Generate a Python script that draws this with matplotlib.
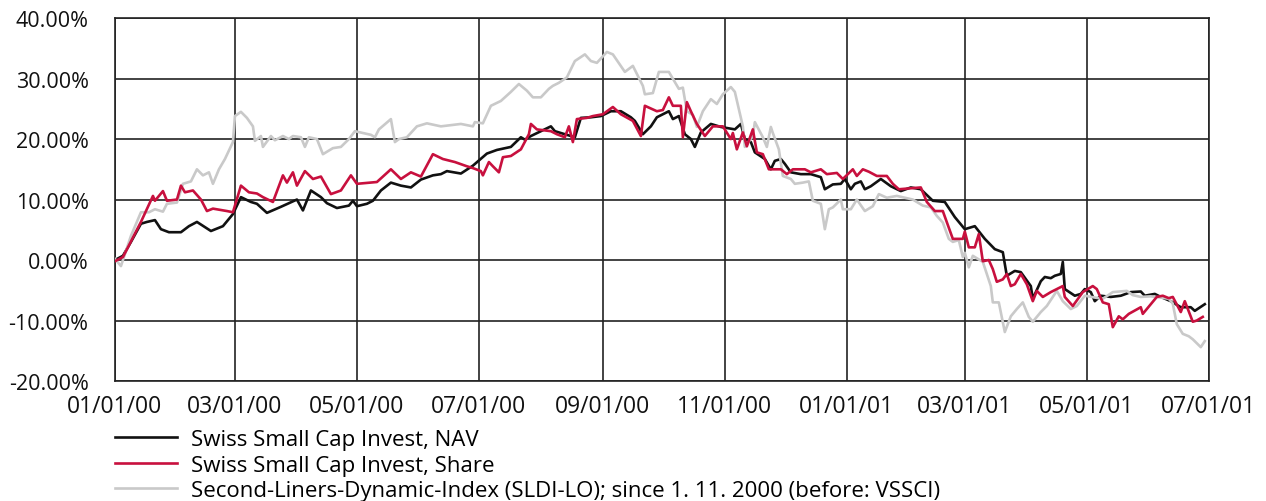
import numpy as np
import pandas as pd
import matplotlib
matplotlib.use("Agg")
import matplotlib.pyplot as plt
import matplotlib.dates as mdates
from matplotlib.ticker import FuncFormatter

plt.rcParams['font.family'] = ['Open Sans', 'DejaVu Sans']

start = pd.Timestamp("2000-01-01")

# days since 01/01/00 and performance in %
nav_day = [0, 4, 8, 13, 16, 20, 23, 27, 33, 37, 41, 48, 54, 59, 63, 68, 71, 76, 83, 91,
           94, 98, 103, 106, 111, 117, 119, 121, 126, 129, 133, 138, 143, 148, 153, 159,
           163, 166, 173, 179, 186, 191, 198, 203, 205, 208, 213, 218, 220, 225, 230, 233,
           238, 243, 248, 253, 258, 260, 264, 268, 271, 277, 279, 282, 285, 288, 290, 293,
           298, 303, 310, 313, 315, 318, 320, 325, 328, 330, 333, 335, 338, 343, 348, 353,
           355, 359, 363, 365, 368, 370, 373, 375, 378, 383, 388, 393, 398, 403, 409, 415,
           420, 425, 430, 435, 440, 444, 446, 450, 453, 458, 459, 463, 465, 468, 470, 473,
           474, 475, 480, 483, 485, 488, 490, 493, 498, 503, 508, 513, 515, 520, 523, 528,
           533, 538, 540, 545]
nav_val = [0.0, 0.7, 3.0, 6.0, 6.3, 6.6, 5.1, 4.6, 4.6, 5.6, 6.3, 4.8, 5.6, 7.6, 10.4, 9.6, 9.3, 7.8, 8.8, 10.0,
           8.2, 11.5, 10.4, 9.4, 8.6, 9.0, 9.8, 8.9, 9.3, 9.8, 11.5, 12.8, 12.3, 12.0, 13.3, 14.0,
           14.2, 14.7, 14.3, 15.6, 17.6, 18.2, 18.7, 20.3, 19.9, 20.5, 21.3, 22.1, 21.3, 20.8, 20.3, 23.5,
           23.6, 23.8, 24.6, 24.6, 23.6, 23.0, 20.8, 22.1, 23.6, 24.6, 23.3, 23.8, 20.8, 20.0, 18.7, 21.1,
           22.5, 22.0, 21.6, 22.5, 20.0, 19.5, 17.8, 16.7, 15.0, 16.4, 16.7, 15.9, 14.5, 14.2, 14.2, 13.7,
           11.7, 12.5, 12.6, 13.4, 11.7, 12.6, 13.0, 11.7, 12.2, 13.4, 12.2, 11.4, 12.0, 11.7, 9.8, 9.6,
           7.1, 5.1, 5.6, 3.5, 1.8, 1.3, -2.6, -1.8, -2.0, -4.3, -6.4, -3.5, -2.8, -3.0, -2.6, -2.3,
           -0.3, -4.8, -5.9, -5.6, -4.8, -5.3, -6.8, -5.9, -6.1, -5.9, -5.3, -5.2, -5.9, -5.6, -6.1, -6.8,
           -7.8, -7.8, -8.4, -7.3]

share_day = [0, 4, 13, 19, 20, 24, 26, 31, 33, 35, 39, 43, 46, 49, 56, 59, 63, 67, 71, 74,
             79, 84, 86, 89, 91, 95, 99, 103, 108, 113, 118, 121, 131, 138, 143, 148, 153, 159,
             164, 170, 176, 179, 183, 184, 187, 189, 192, 194, 198, 203, 207, 208, 211, 218, 221,
             225, 227, 229, 231, 236, 239, 244, 249, 253, 259, 263, 265, 271, 274, 277, 279, 283,
             284, 286, 288, 291, 295, 299, 304, 308, 309, 311, 314, 316, 319, 321, 324, 327, 333,
             336, 339, 345, 348, 353, 356, 361, 364, 369, 371, 374, 377, 381, 386, 389, 392, 399,
             403, 406, 410, 414, 419, 424, 425, 427, 430, 432, 434, 437, 439, 441, 444, 446, 448,
             450, 453, 456, 459, 461, 464, 468, 474, 475, 479, 484, 489, 491, 494, 497, 499, 502,
             504, 507, 513, 514, 521, 524, 527, 529, 533, 535, 539, 541, 544]
share_val = [-0.2, 0.5, 6.3, 10.6, 9.8, 11.4, 9.8, 10.0, 12.3, 11.2, 11.5, 10.0, 8.1, 8.5, 8.1, 7.9, 12.3, 11.2, 11.0, 10.4,
             9.6, 14.0, 12.8, 14.5, 12.3, 14.7, 13.4, 13.8, 10.9, 11.5, 14.0, 12.6, 12.9, 15.0, 13.4, 14.5, 13.8, 17.5,
             16.7, 16.2, 15.5, 15.2, 14.7, 14.0, 16.2, 15.5, 14.5, 17.0, 17.2, 18.3, 20.8, 22.5, 21.6, 21.3, 20.8,
             20.3, 22.1, 19.5, 23.3, 23.5, 23.8, 24.1, 25.3, 24.1, 23.0, 20.5, 25.5, 24.6, 24.8, 26.9, 25.5, 25.5,
             20.3, 26.1, 24.6, 22.5, 20.5, 22.1, 22.1, 20.0, 21.0, 18.3, 21.1, 18.8, 21.6, 17.8, 17.5, 15.0, 15.0,
             14.2, 15.0, 15.0, 14.5, 15.0, 14.2, 14.4, 13.4, 15.0, 13.9, 15.0, 14.6, 13.9, 13.9, 12.6, 11.7, 11.9,
             12.0, 9.6, 8.1, 8.1, 3.5, 3.5, 4.7, 2.1, 2.1, 4.3, -0.2, 0.0, -1.5, -3.6, -3.2, -2.3, -4.3,
             -4.0, -2.3, -4.0, -6.8, -5.1, -6.1, -5.3, -4.3, -6.1, -7.6, -5.3, -4.3, -4.8, -7.0, -7.3, -11.1, -9.3,
             -9.8, -8.9, -7.8, -8.9, -6.1, -5.9, -6.3, -6.1, -8.6, -6.8, -10.2, -10.0, -9.4]

index_day = [0, 3, 8, 13, 17, 20, 24, 26, 31, 34, 38, 41, 44, 47, 49, 52, 55, 59, 60, 63,
             66, 69, 70, 73, 74, 78, 80, 84, 87, 89, 93, 95, 97, 101, 104, 109, 113, 117, 120,
             124, 128, 130, 132, 138, 140, 142, 146, 151, 156, 163, 173, 179, 180, 184, 188, 193,
             198, 202, 206, 209, 213, 217, 219, 222, 226, 230, 235, 238, 241, 246, 249, 255, 259,
             264, 265, 269, 272, 277, 282, 284, 286, 289, 291, 294, 298, 301, 304, 308, 310, 314,
             315, 319, 320, 324, 326, 328, 329, 332, 334, 338, 340, 344, 347, 349, 353, 355, 357,
             359, 363, 364, 368, 371, 375, 379, 382, 386, 391, 395, 399, 404, 408, 411, 414, 417,
             419, 422, 424, 425, 427, 429, 434, 438, 439, 442, 445, 448, 451, 454, 457, 459, 463,
             466, 471, 474, 478, 481, 485, 490, 494, 499, 506, 509, 513, 518, 523, 527, 529, 531,
             534, 537, 539, 543, 545]
index_val = [0.2, -1.0, 4.0, 7.9, 7.9, 8.4, 8.0, 9.3, 9.5, 12.6, 13.0, 15.0, 14.0, 14.5, 12.6, 15.0, 16.7, 19.5, 23.8, 24.5,
             23.5, 22.1, 19.7, 20.5, 18.7, 20.5, 19.8, 20.5, 20.0, 20.5, 20.3, 18.7, 20.3, 20.0, 17.5, 18.5, 18.7, 20.0, 21.3,
             21.0, 20.7, 20.3, 21.6, 23.3, 19.5, 20.0, 20.3, 22.1, 22.6, 22.1, 22.5, 22.1, 22.8, 22.6, 25.5, 26.3,
             27.8, 29.1, 28.0, 26.9, 26.9, 28.3, 28.8, 29.3, 30.2, 32.9, 34.0, 32.9, 32.6, 34.4, 34.0, 31.1, 32.1,
             28.8, 27.4, 27.6, 31.1, 31.1, 28.3, 28.5, 24.6, 24.0, 22.0, 24.6, 26.6, 25.8, 27.4, 28.6, 27.8, 22.1,
             18.7, 20.5, 22.8, 20.3, 18.7, 22.0, 21.0, 18.3, 13.9, 13.4, 12.6, 12.8, 13.0, 9.8, 9.3, 5.1, 8.4,
             8.7, 10.0, 8.4, 8.4, 10.0, 8.1, 8.9, 10.9, 10.3, 10.6, 10.3, 10.0, 9.0, 8.7, 7.3, 6.2, 3.5,
             3.0, 3.3, 0.5, 1.2, -1.2, 0.7, -0.3, -4.3, -7.0, -7.0, -11.9, -9.3, -8.1, -7.0, -9.4, -10.2, -8.6,
             -7.6, -5.1, -6.8, -8.1, -7.6, -5.9, -6.2, -6.4, -5.3, -5.1, -5.8, -6.1, -6.0, -6.2, -6.4, -7.2, -10.6,
             -12.2, -12.6, -13.1, -14.4, -13.4]

labels = ["Swiss Small Cap Invest, NAV",
          "Swiss Small Cap Invest, Share",
          "Second-Liners-Dynamic-Index (SLDI-LO); since 1. 11. 2000 (before: VSSCI)"]


def to_dates(days):
    return start + pd.to_timedelta(days, unit="D")


fig = plt.figure(figsize=(12.66, 5.02), dpi=100)
ax = fig.add_axes([0.0908, 0.239, 0.864, 0.723])

l1, = ax.plot(to_dates(nav_day), nav_val, color="#111111", lw=1.9, zorder=3)
l3, = ax.plot(to_dates(index_day), index_val, color="#c9c9c9", lw=1.9, zorder=4)
l2, = ax.plot(to_dates(share_day), share_val, color="#c8103e", lw=1.9, zorder=5)

ax.set_xlim(start, pd.Timestamp("2001-07-01"))
ax.set_ylim(-20, 40)
ax.set_yticks(np.arange(-20, 41, 10))
ax.yaxis.set_major_formatter(FuncFormatter(lambda v, p: "%.2f%%" % v))
ax.xaxis.set_major_locator(mdates.MonthLocator(bymonth=[1, 3, 5, 7, 9, 11]))
ax.xaxis.set_major_formatter(mdates.DateFormatter("%m/%d/%y"))
ax.tick_params(axis="both", length=0, colors="#111111")
ax.tick_params(axis="y", pad=19, labelsize=15.5)
ax.tick_params(axis="x", pad=9, labelsize=16.5)
ax.grid(True, color="#222222", lw=1.2, zorder=1)
for s in ax.spines.values():
    s.set_color("#222222")
    s.set_linewidth(1.2)

fig.legend([l1, l2, l3], labels, loc="upper left", bbox_to_anchor=(0.0908, 0.143),
           frameon=False, fontsize=16, handlelength=2.8, handletextpad=0.6,
           borderpad=0, borderaxespad=0, labelspacing=0.2)

fig.savefig("out.png", dpi=100)
